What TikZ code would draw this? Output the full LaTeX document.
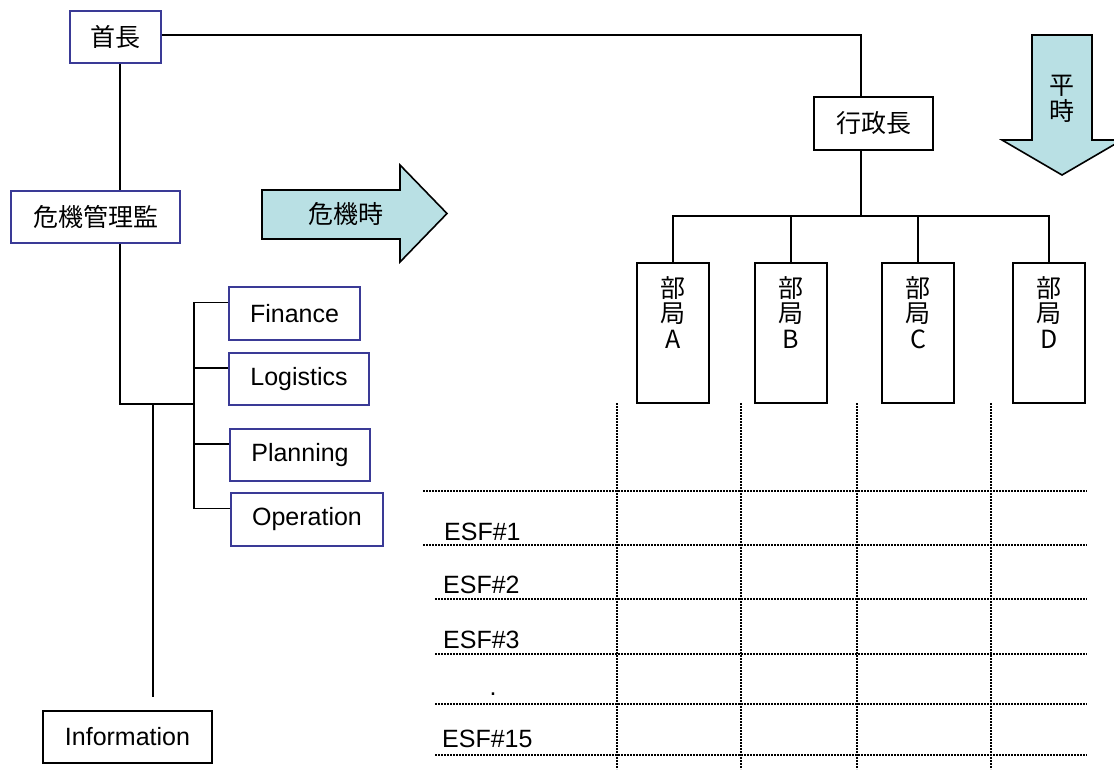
\documentclass[tikz,border=0pt]{standalone}
\usepackage{fontspec}
\setmainfont{Liberation Sans}
\newfontfamily\cjk{Noto Sans CJK JP}
\usetikzlibrary{calc}
\definecolor{boxblue}{RGB}{58,58,150}
\definecolor{arrowfill}{RGB}{185,224,228}
\begin{document}
\begin{tikzpicture}[x=1pt,y=-1pt,
  every node/.style={inner sep=0pt, font=\fontsize{25}{26}\selectfont},
  bluebox/.style={draw=boxblue, line width=1.8pt, fill=white},
  blackbox/.style={draw=black, line width=1.8pt, fill=white},
  conn/.style={draw=black, line width=1.8pt},
  dotline/.style={line width=2pt, dash pattern=on 2pt off 1pt},
  bigarrow/.style={draw=black, line width=1.6pt, fill=arrowfill},
  esf/.style={anchor=base west},
  cjktext/.style={font=\cjk\fontsize{25}{25.5}\selectfont}
]
\useasboundingbox (0,0) rectangle (1114,769);
\clip (0,0) rectangle (1114,769);

% dotted grid
\foreach \xx in {617,741,857,991} \draw[dotline] (\xx,403) -- (\xx,769);
\foreach \yy in {491,545} \draw[dotline] (423,\yy) -- (1087,\yy);
\foreach \yy in {599,654,704,755} \draw[dotline] (435,\yy) -- (1087,\yy);

% big arrows
\draw[bigarrow] (262,190) -- (400,190) -- (400,165) -- (447,213.5) -- (400,262) -- (400,239) -- (262,239) -- cycle;
\node[cjktext] (kikiji) at (346,214) {危機時};
\draw[bigarrow] (1032,35) -- (1092,35) -- (1092,140) -- (1122,140) -- (1062,175) -- (1002,140) -- (1032,140) -- cycle;
\node[cjktext, anchor=north, align=center] (heiji) at (1062,75) {平\\時};

% left boxes
\node[bluebox, cjktext, minimum width=91pt, minimum height=52pt] (sh) at (115.5,37) {首長};
\node[bluebox, cjktext, minimum width=169pt, minimum height=52pt] (kk) at (95.5,217) {危機管理監};
\node[bluebox, minimum width=131pt, minimum height=53pt] (fin) at (294.5,313.5) {Finance};
\node[bluebox, minimum width=140pt, minimum height=52pt] (log) at (299,379) {Logistics};
\node[bluebox, minimum width=140pt, minimum height=52pt] (plan) at (300,455) {Planning};
\node[bluebox, minimum width=152pt, minimum height=53pt] (op) at (307,519.5) {Operation};
\node[blackbox, minimum width=169pt, minimum height=52pt] (info) at (127.5,737) {Information};

% right boxes
\node[blackbox, cjktext, minimum width=119pt, minimum height=53pt] (gyo) at (873.5,123.5) {行政長};
\node[blackbox, minimum width=72pt, minimum height=140pt] (bA) at (673,333) {};
\node[blackbox, minimum width=72pt, minimum height=140pt] (bB) at (791,333) {};
\node[blackbox, minimum width=72pt, minimum height=140pt] (bC) at (918,333) {};
\node[blackbox, minimum width=72pt, minimum height=140pt] (bD) at (1049,333) {};
\node[cjktext, anchor=north, align=center] (tA) at ([yshift=-14pt]bA.north) {部\\局\\A};
\node[cjktext, anchor=north, align=center] (tB) at ([yshift=-14pt]bB.north) {部\\局\\B};
\node[cjktext, anchor=north, align=center] (tC) at ([yshift=-14pt]bC.north) {部\\局\\C};
\node[cjktext, anchor=north, align=center] (tD) at ([yshift=-14pt]bD.north) {部\\局\\D};

% connectors, left
\draw[conn] ([yshift=2pt]sh.east) -| ([xshift=-12.5pt]gyo.north);
\draw[conn] ([xshift=4.5pt]sh.south) -- ([xshift=4.5pt]sh.south |- kk.north);
\coordinate (j1) at (120,404);
\coordinate (j2) at (194,404);
\coordinate (j3) at (153,404);
\coordinate (iend) at (153,697);
\draw[conn] (kk.south -| j1) -- (j1) -- (j2);
\draw[conn] (j3) -- (iend);
\draw[conn] ([yshift=11pt]fin.west) -- ([yshift=11pt]fin.west -| j2) -- ([yshift=11pt]op.west -| j2) -- ([yshift=11pt]op.west);
\draw[conn] ([yshift=11pt]log.west) -- ([yshift=11pt]log.west -| j2);
\draw[conn] ([yshift=11pt]plan.west) -- ([yshift=11pt]plan.west -| j2);

% connectors, right
\coordinate (bar) at (861,216);
\draw[conn] ([xshift=-12.5pt]gyo.south) -- (bar);
\draw[conn] (bA.north) -- (bA.north |- bar) -- (bD.north |- bar) -- (bD.north);
\draw[conn] (bB.north) -- (bB.north |- bar);
\draw[conn] (bC.north) -- (bC.north |- bar);

% ESF labels
\node[esf] (e1) at (444,540) {ESF\#1};
\node[esf] (e2) at (443,593) {ESF\#2};
\node[esf] (e3) at (443,648) {ESF\#3};
\node[anchor=base] (edot) at (493,695) {.};
\node[esf] (e15) at (442,747) {ESF\#15};
\end{tikzpicture}
\end{document}
